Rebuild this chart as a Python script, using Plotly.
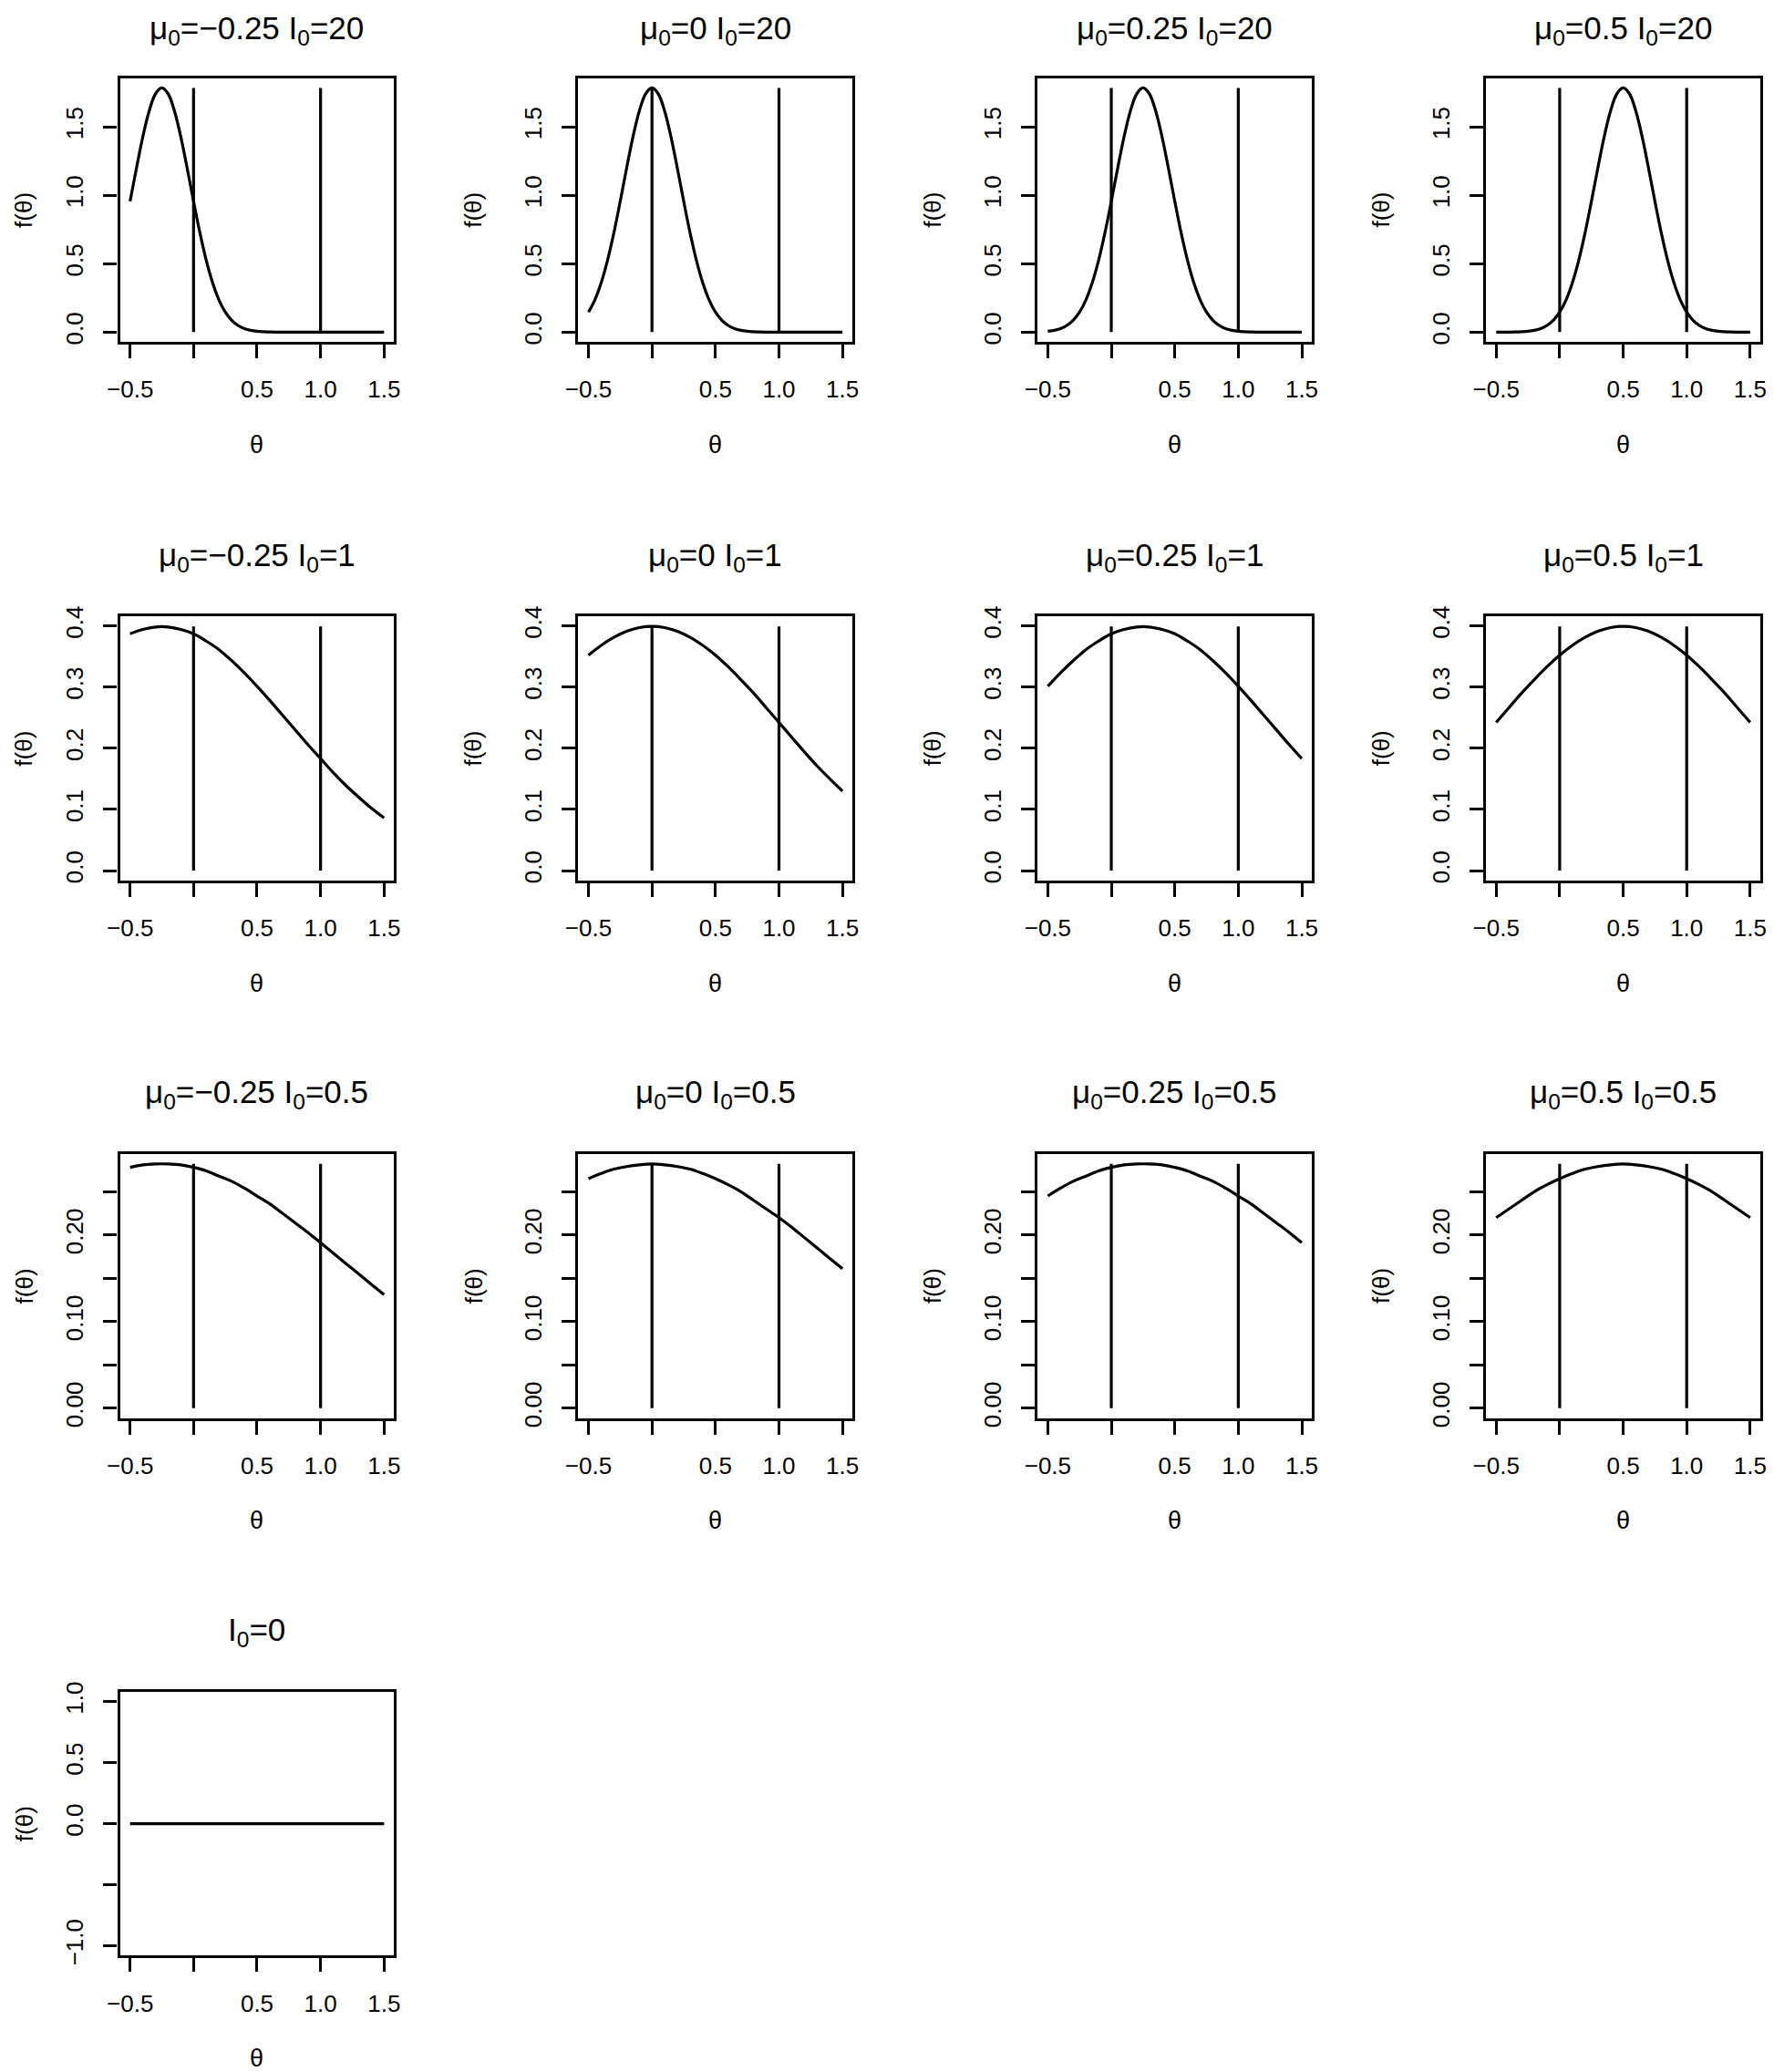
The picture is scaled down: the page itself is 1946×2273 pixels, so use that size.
import plotly.graph_objects as go

W, H = 1946, 2273
FONT = "Liberation Sans, Arial, Helvetica, sans-serif"

# theta grids
THETA = [-0.5, -0.45, -0.4, -0.35, -0.3, -0.25, -0.2, -0.15, -0.1, -0.05,
         0.0, 0.05, 0.1, 0.15, 0.2, 0.25, 0.3, 0.35, 0.4, 0.45,
         0.5, 0.55, 0.6, 0.65, 0.7, 0.75, 0.8, 0.85, 0.9, 0.95,
         1.0, 1.05, 1.1, 1.15, 1.2, 1.25, 1.3, 1.35, 1.4, 1.45, 1.5]
THETA_WIDE = [-0.5, -0.4, -0.3, -0.2, -0.1, 0.0, 0.1, 0.2, 0.3, 0.4, 0.5,
              0.6, 0.7, 0.8, 0.9, 1.0, 1.1, 1.2, 1.3, 1.4, 1.5]

MU_LABELS = ["\u22120.25", "0", "0.25", "0.5"]
I0_LABELS = ["20", "1", "0.5"]

# f(theta), I0 = 20 (on THETA)
F_I20_M1 = [0.955, 1.196, 1.425, 1.614, 1.740, 1.784, 1.740, 1.614, 1.425, 1.196,
            0.955, 0.725, 0.524, 0.360, 0.235, 0.146, 0.087, 0.049, 0.026, 0.013,
            0.006, 0.003, 0.001, 0, 0, 0, 0, 0, 0, 0,
            0, 0, 0, 0, 0, 0, 0, 0, 0, 0, 0]
F_I20_M2 = [0.146, 0.235, 0.360, 0.524, 0.725, 0.955, 1.196, 1.425, 1.614, 1.740,
            1.784, 1.740, 1.614, 1.425, 1.196, 0.955, 0.725, 0.524, 0.360, 0.235,
            0.146, 0.087, 0.049, 0.026, 0.013, 0.006, 0.003, 0.001, 0, 0,
            0, 0, 0, 0, 0, 0, 0, 0, 0, 0, 0]
F_I20_M3 = [0.006, 0.013, 0.026, 0.049, 0.087, 0.146, 0.235, 0.360, 0.524, 0.725,
            0.955, 1.196, 1.425, 1.614, 1.740, 1.784, 1.740, 1.614, 1.425, 1.196,
            0.955, 0.725, 0.524, 0.360, 0.235, 0.146, 0.087, 0.049, 0.026, 0.013,
            0.006, 0.003, 0.001, 0, 0, 0, 0, 0, 0, 0, 0]
F_I20_M4 = [0, 0, 0, 0.001, 0.003, 0.006, 0.013, 0.026, 0.049, 0.087,
            0.146, 0.235, 0.360, 0.524, 0.725, 0.955, 1.196, 1.425, 1.614, 1.740,
            1.784, 1.740, 1.614, 1.425, 1.196, 0.955, 0.725, 0.524, 0.360, 0.235,
            0.146, 0.087, 0.049, 0.026, 0.013, 0.006, 0.003, 0.001, 0, 0, 0]

# I0 = 1 (on THETA_WIDE)
F_I1_M1 = [0.387, 0.394, 0.398, 0.398, 0.394, 0.387, 0.375, 0.361, 0.343, 0.323, 0.301,
           0.278, 0.254, 0.230, 0.206, 0.183, 0.160, 0.139, 0.120, 0.102, 0.086]
F_I1_M2 = [0.352, 0.368, 0.381, 0.391, 0.397, 0.399, 0.397, 0.391, 0.381, 0.368, 0.352,
           0.333, 0.312, 0.290, 0.266, 0.242, 0.218, 0.194, 0.171, 0.150, 0.130]
F_I1_M3 = [0.301, 0.323, 0.343, 0.361, 0.375, 0.387, 0.394, 0.398, 0.398, 0.394, 0.387,
           0.375, 0.361, 0.343, 0.323, 0.301, 0.278, 0.254, 0.230, 0.206, 0.183]
F_I1_M4 = [0.242, 0.266, 0.290, 0.312, 0.333, 0.352, 0.368, 0.381, 0.391, 0.397, 0.399,
           0.397, 0.391, 0.381, 0.368, 0.352, 0.333, 0.312, 0.290, 0.266, 0.242]

# I0 = 0.5 (on THETA_WIDE)
F_I05_M1 = [0.278, 0.281, 0.282, 0.282, 0.281, 0.278, 0.274, 0.268, 0.262, 0.254, 0.245,
            0.236, 0.225, 0.214, 0.203, 0.191, 0.179, 0.167, 0.155, 0.143, 0.131]
F_I05_M2 = [0.265, 0.271, 0.276, 0.279, 0.281, 0.282, 0.281, 0.279, 0.276, 0.271, 0.265,
            0.258, 0.250, 0.240, 0.230, 0.220, 0.209, 0.197, 0.185, 0.173, 0.161]
F_I05_M3 = [0.245, 0.254, 0.262, 0.268, 0.274, 0.278, 0.281, 0.282, 0.282, 0.281, 0.278,
            0.274, 0.268, 0.262, 0.254, 0.245, 0.236, 0.225, 0.214, 0.203, 0.191]
F_I05_M4 = [0.220, 0.230, 0.240, 0.250, 0.258, 0.265, 0.271, 0.276, 0.279, 0.281, 0.282,
            0.281, 0.279, 0.276, 0.271, 0.265, 0.258, 0.250, 0.240, 0.230, 0.220]

# I0 = 0 : flat
F_I0 = [0, 0, 0, 0, 0, 0, 0, 0, 0, 0, 0, 0, 0, 0, 0, 0, 0, 0, 0, 0, 0]

# height of the reference lines at theta = 0 and 1 (peak density of each row)
PEAK = [1.784, 0.399, 0.282, 0.0]
VLINE_X = [0.0, 1.0]

X_TICKS = [-0.5, 0.5, 1.0, 1.5]
X_TICKTEXT = ["\u22120.5", "0.5", "1.0", "1.5"]
X_MINOR = [0.0]
# (labelled ticks, labels, unlabelled ticks)
Y_TICKS = [
    ([0, 0.5, 1.0, 1.5], ["0.0", "0.5", "1.0", "1.5"], []),
    ([0, 0.1, 0.2, 0.3, 0.4], ["0.0", "0.1", "0.2", "0.3", "0.4"], []),
    ([0, 0.10, 0.20], ["0.00", "0.10", "0.20"], [0.05, 0.15, 0.25]),
    ([-1.0, 0.0, 0.5, 1.0], ["\u22121.0", "0.0", "0.5", "1.0"], [-0.5]),
]

ROWS = [
    (THETA, [F_I20_M1, F_I20_M2, F_I20_M3, F_I20_M4]),
    (THETA_WIDE, [F_I1_M1, F_I1_M2, F_I1_M3, F_I1_M4]),
    (THETA_WIDE, [F_I05_M1, F_I05_M2, F_I05_M3, F_I05_M4]),
]

# panel geometry (target px in the final picture)
COL_LEFT = [130, 633, 1137, 1629]
ROW_TOP = [84, 676, 1267, 1858]
TITLE_Y = [31, 610, 1201, 1792]
PW, PH = 301, 290
LW = 3.2
SX, SY = 0.9895, 0.992   # render calibration


def px(x):
    x = W - (W - x) / SX
    return x / W


def py(y):
    y = H - (H - y) / SY
    return 1 - y / H


def _ylim(peak):
    if peak == 0:
        return [-1.08, 1.08]
    return [-0.04 * peak, 1.04 * peak]


fig = go.Figure()
layout = dict(width=W, height=H, paper_bgcolor="white", plot_bgcolor="white",
              margin=dict(l=0, r=0, t=0, b=0), showlegend=False,
              font=dict(family=FONT, color="black", size=26))
annotations = []

panels = []
for r, (xs, curves) in enumerate(ROWS):
    for c, ys in enumerate(curves):
        title = f"\u03bc<sub>0</sub>={MU_LABELS[c]} I<sub>0</sub>={I0_LABELS[r]}"
        panels.append((r, c, xs, ys, title))
panels.append((3, 0, THETA_WIDE, F_I0, "I<sub>0</sub>=0"))

for k, (r, c, xs, ys, title) in enumerate(panels, start=1):
    sfx = "" if k == 1 else str(k)
    x0, y0 = COL_LEFT[c], ROW_TOP[r]
    peak = PEAK[r]
    fig.add_trace(go.Scatter(x=xs, y=ys, mode="lines",
                             line=dict(color="black", width=LW, shape="spline", smoothing=1.0),
                             xaxis="x" + sfx, yaxis="y" + sfx, hoverinfo="skip"))
    if peak > 0:
        vx, vy = [], []
        for v in VLINE_X:
            vx += [v, v, None]
            vy += [0, peak, None]
        fig.add_trace(go.Scatter(x=vx, y=vy, mode="lines",
                                 line=dict(color="black", width=LW),
                                 xaxis="x" + sfx, yaxis="y" + sfx, hoverinfo="skip"))
    common = dict(showgrid=False, zeroline=False, showline=True, mirror=True,
                  linecolor="black", linewidth=LW, ticks="outside", ticklen=15,
                  tickwidth=LW, tickcolor="black",
                  tickfont=dict(family=FONT, size=26, color="black"))
    minor_common = dict(ticks="outside", ticklen=15, tickwidth=LW, tickcolor="black",
                        showgrid=False, tickmode="array")
    layout["xaxis" + sfx] = dict(common, domain=[px(x0), min(px(x0 + PW), 1.0)],
                                 anchor="y" + sfx, range=[-0.58, 1.58], tickmode="array",
                                 tickvals=X_TICKS, ticktext=X_TICKTEXT,
                                 minor=dict(minor_common, tickvals=X_MINOR),
                                 ticklabelstandoff=12)
    tv, tt, tm = Y_TICKS[r]
    yax = dict(common, domain=[py(y0 + PH), min(py(y0), 1.0)], anchor="x" + sfx,
               range=_ylim(peak), tickmode="array",
               tickvals=tv, ticktext=tt, tickangle=-90,
               ticklabelstandoff=12)
    if tm:
        yax["minor"] = dict(minor_common, tickvals=tm)
    layout["yaxis" + sfx] = yax
    annotations.append(dict(text=title, x=px(x0 + PW / 2), y=py(TITLE_Y[r]),
                            xref="paper", yref="paper", showarrow=False,
                            xanchor="center", yanchor="middle",
                            font=dict(family=FONT, size=35, color="black")))
    annotations.append(dict(text="\u03b8", x=px(x0 + PW / 2), y=py(y0 + PH + 113),
                            xref="paper", yref="paper", showarrow=False,
                            xanchor="center", yanchor="middle",
                            font=dict(family=FONT, size=27, color="black")))
    annotations.append(dict(text="f(\u03b8)", x=px(max(x0 - 115, 25)), y=py(y0 + PH / 2),
                            xref="paper", yref="paper", showarrow=False,
                            textangle=-90, xanchor="center", yanchor="middle",
                            font=dict(family=FONT, size=26, color="black")))

layout["annotations"] = annotations
fig.update_layout(**layout)
fig.write_html("out.html")
